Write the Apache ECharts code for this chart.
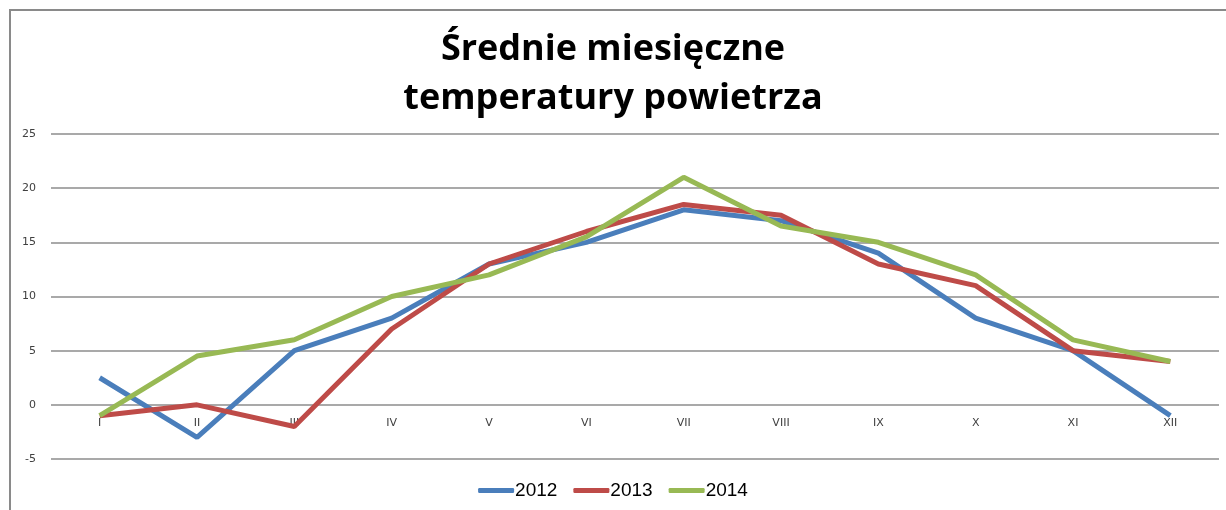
<!DOCTYPE html>
<html>
<head>
<meta charset="utf-8">
<script src="https://cdn.jsdelivr.net/npm/echarts@6/dist/echarts.min.js"></script>
<style>
  html, body { margin: 0; padding: 0; background: #fff; }
  #main { width: 1226px; height: 510px; }
</style>
</head>
<body>
<div id="main"></div>
<script>
const months = ['I', 'II', 'III', 'IV', 'V', 'VI', 'VII', 'VIII', 'IX', 'X', 'XI', 'XII'];
const t2012 = [2.5, -3, 5, 8, 13, 15, 18, 17, 14, 8, 5, -1];
const t2013 = [-1, 0, -2, 7, 13, 16, 18.5, 17.5, 13, 11, 5, 4];
const t2014 = [-1, 4.5, 6, 10, 12, 15.5, 21, 16.5, 15, 12, 6, 4];

const chart = echarts.init(document.getElementById('main'));

function line(name, data, color) {
  return {
    name: name,
    type: 'line',
    data: data,
    symbol: 'none',
    lineStyle: { width: 5, color: color },
    itemStyle: { color: color },
    animation: false
  };
}

const option = {
  animation: false,
  title: {
    text: 'Średnie miesięczne\ntemperatury powietrza',
    left: 'center',
    top: 20,
    textStyle: {
      fontFamily: 'Open Sans',
      fontWeight: 'bold',
      fontSize: 36,
      lineHeight: 49,
      color: '#000'
    }
  },
  graphic: [{
    type: 'rect',
    shape: { x: 10, y: 10, width: 1240, height: 530 },
    style: { fill: 'none', stroke: '#8a8a8a', lineWidth: 2 },
    silent: true
  }],
  legend: {
    bottom: 5,
    left: 'center',
    itemWidth: 36,
    itemHeight: 5,
    itemGap: 16,
    icon: 'roundRect',
    textStyle: { fontFamily: 'Liberation Sans', fontSize: 19, color: '#000', padding: [0, 0, 0, -4] },
    data: ['2012', '2013', '2014']
  },
  grid: { left: 51, right: 7, top: 134, bottom: 51 },
  xAxis: {
    type: 'category',
    data: months,
    boundaryGap: true,
    // month labels sit just under the zero line (one 5-degree step above the bottom)
    offset: -54,
    axisLine: { show: false, onZero: false },
    axisTick: { show: false },
    axisLabel: { fontFamily: 'DejaVu Sans', fontSize: 11, color: '#404040', margin: 13 }
  },
  yAxis: {
    type: 'value',
    min: -5,
    max: 25,
    interval: 5,
    axisLine: { show: false },
    axisTick: { show: false },
    axisLabel: { fontFamily: 'DejaVu Sans', fontSize: 11, color: '#404040', margin: 15 },
    splitLine: { lineStyle: { color: '#8c8c8c', width: 1.5 } }
  },
  series: [
    line('2012', t2012, '#4a7ebb'),
    line('2013', t2013, '#be4b48'),
    line('2014', t2014, '#98b954')
  ]
};

chart.setOption(option);
</script>
</body>
</html>
